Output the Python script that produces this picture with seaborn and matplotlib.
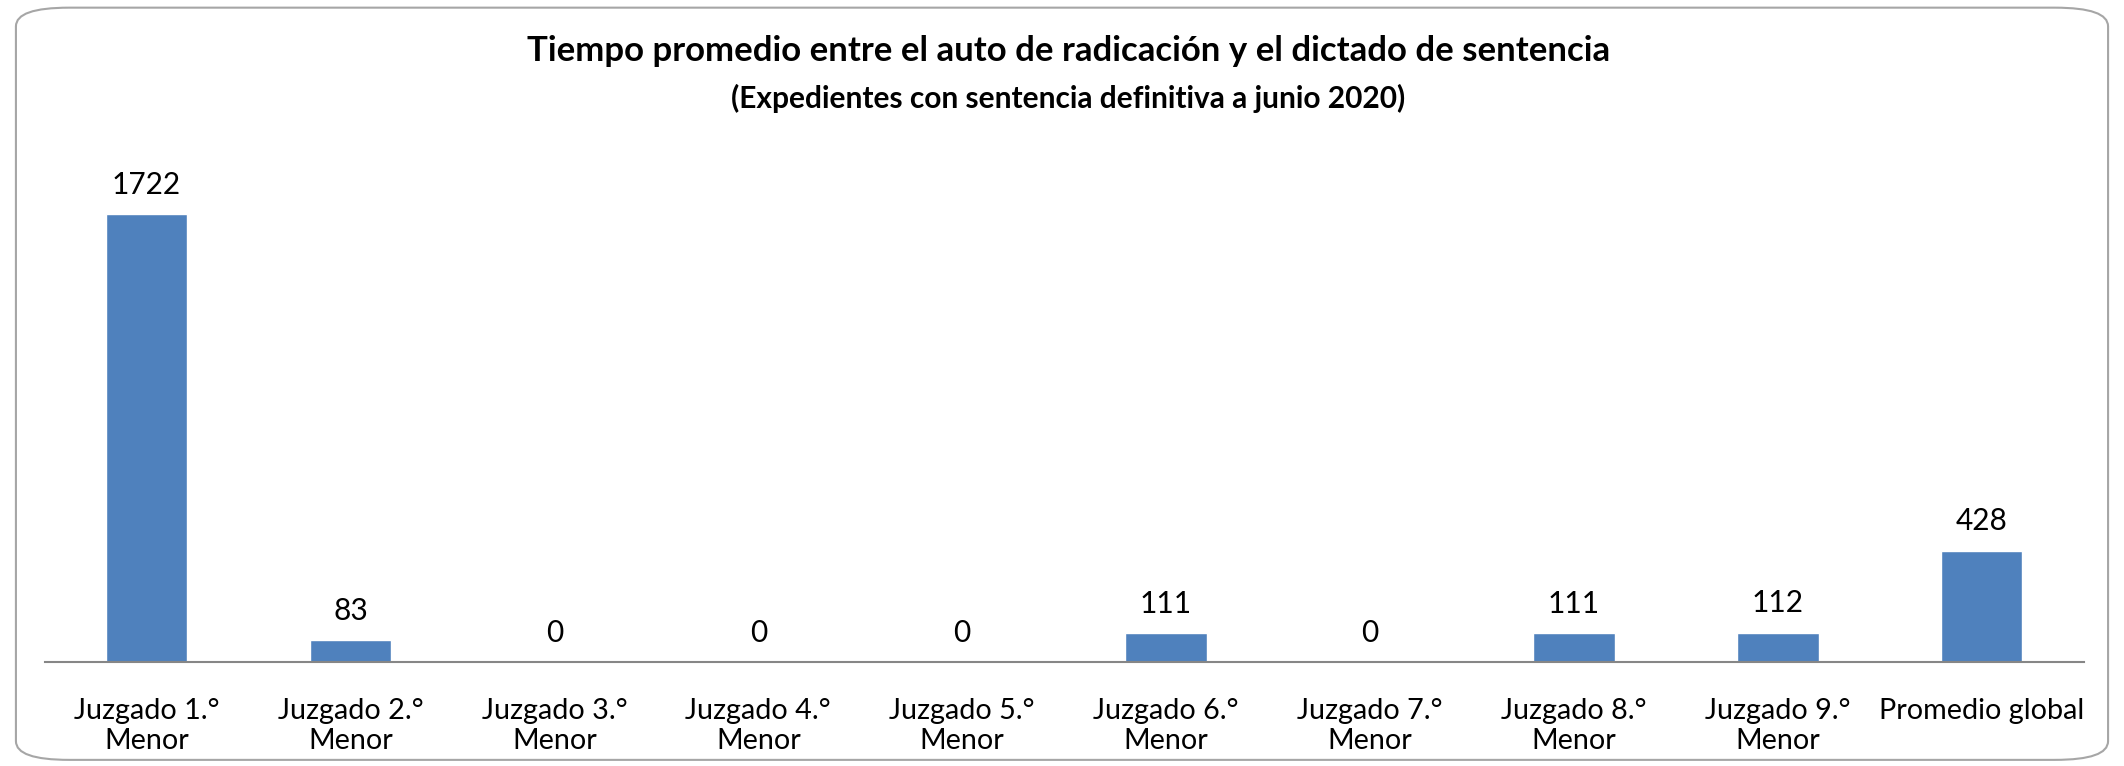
import matplotlib
matplotlib.use("Agg")
import matplotlib.pyplot as plt
from matplotlib.patches import FancyBboxPatch
import pandas as pd
import seaborn as sns

# chart data
juzgados = ["Juzgado 1.°\nMenor", "Juzgado 2.°\nMenor", "Juzgado 3.°\nMenor",
            "Juzgado 4.°\nMenor", "Juzgado 5.°\nMenor", "Juzgado 6.°\nMenor",
            "Juzgado 7.°\nMenor", "Juzgado 8.°\nMenor", "Juzgado 9.°\nMenor",
            "Promedio global"]
dias = [1722, 83, 0, 0, 0, 111, 0, 111, 112, 428]

titulo = "Tiempo promedio entre el auto de radicación y el dictado de sentencia"
subtitulo = "(Expedientes con sentencia definitiva a junio 2020)"

df = pd.DataFrame({"juzgado": juzgados, "dias": dias})

sns.set_theme(style="white")
plt.rcParams['font.family'] = ['Lato', 'DejaVu Sans']

fig = plt.figure(figsize=(21.24, 7.66), dpi=100)
ax = fig.add_axes([0.021, 0.136, 0.96, 0.634])

sns.barplot(data=df, x="juzgado", y="dias", color="#4F81BD", width=0.4,
            saturation=1, ax=ax)

# value labels above each bar
for i, v in enumerate(dias):
    ax.annotate(f"{v}", (i, v), xytext=(0, 11), textcoords="offset points",
                ha="center", va="bottom", fontsize=21.5, color="black")

ax.set_ylim(0, 1868)
ax.set_xlim(-0.5, len(juzgados) - 0.5)
ax.set_xlabel("")
ax.set_ylabel("")
ax.set_yticks([])
ax.tick_params(axis="x", length=0, labelsize=20.7, pad=26, colors="black")
for side in ["left", "right", "top"]:
    ax.spines[side].set_visible(False)
ax.spines["bottom"].set_color("#868686")
ax.spines["bottom"].set_linewidth(1.5)

fig.text(0.503, 0.933, titulo, ha="center", va="center", fontsize=25,
         fontweight="bold", color="black")
fig.text(0.503, 0.871, subtitulo, ha="center", va="center", fontsize=21.5,
         fontweight="bold", color="black")

# rounded border around the chart
border = FancyBboxPatch((0.0075, 0.008), 0.985, 0.982,
                        boxstyle="round,pad=0,rounding_size=0.025",
                        transform=fig.transFigure, facecolor="none",
                        edgecolor="#A6A6A6", linewidth=1.5,
                        mutation_aspect=766 / 2124 * 2.7)
fig.patches.append(border)

fig.savefig("out.png", dpi=100)
